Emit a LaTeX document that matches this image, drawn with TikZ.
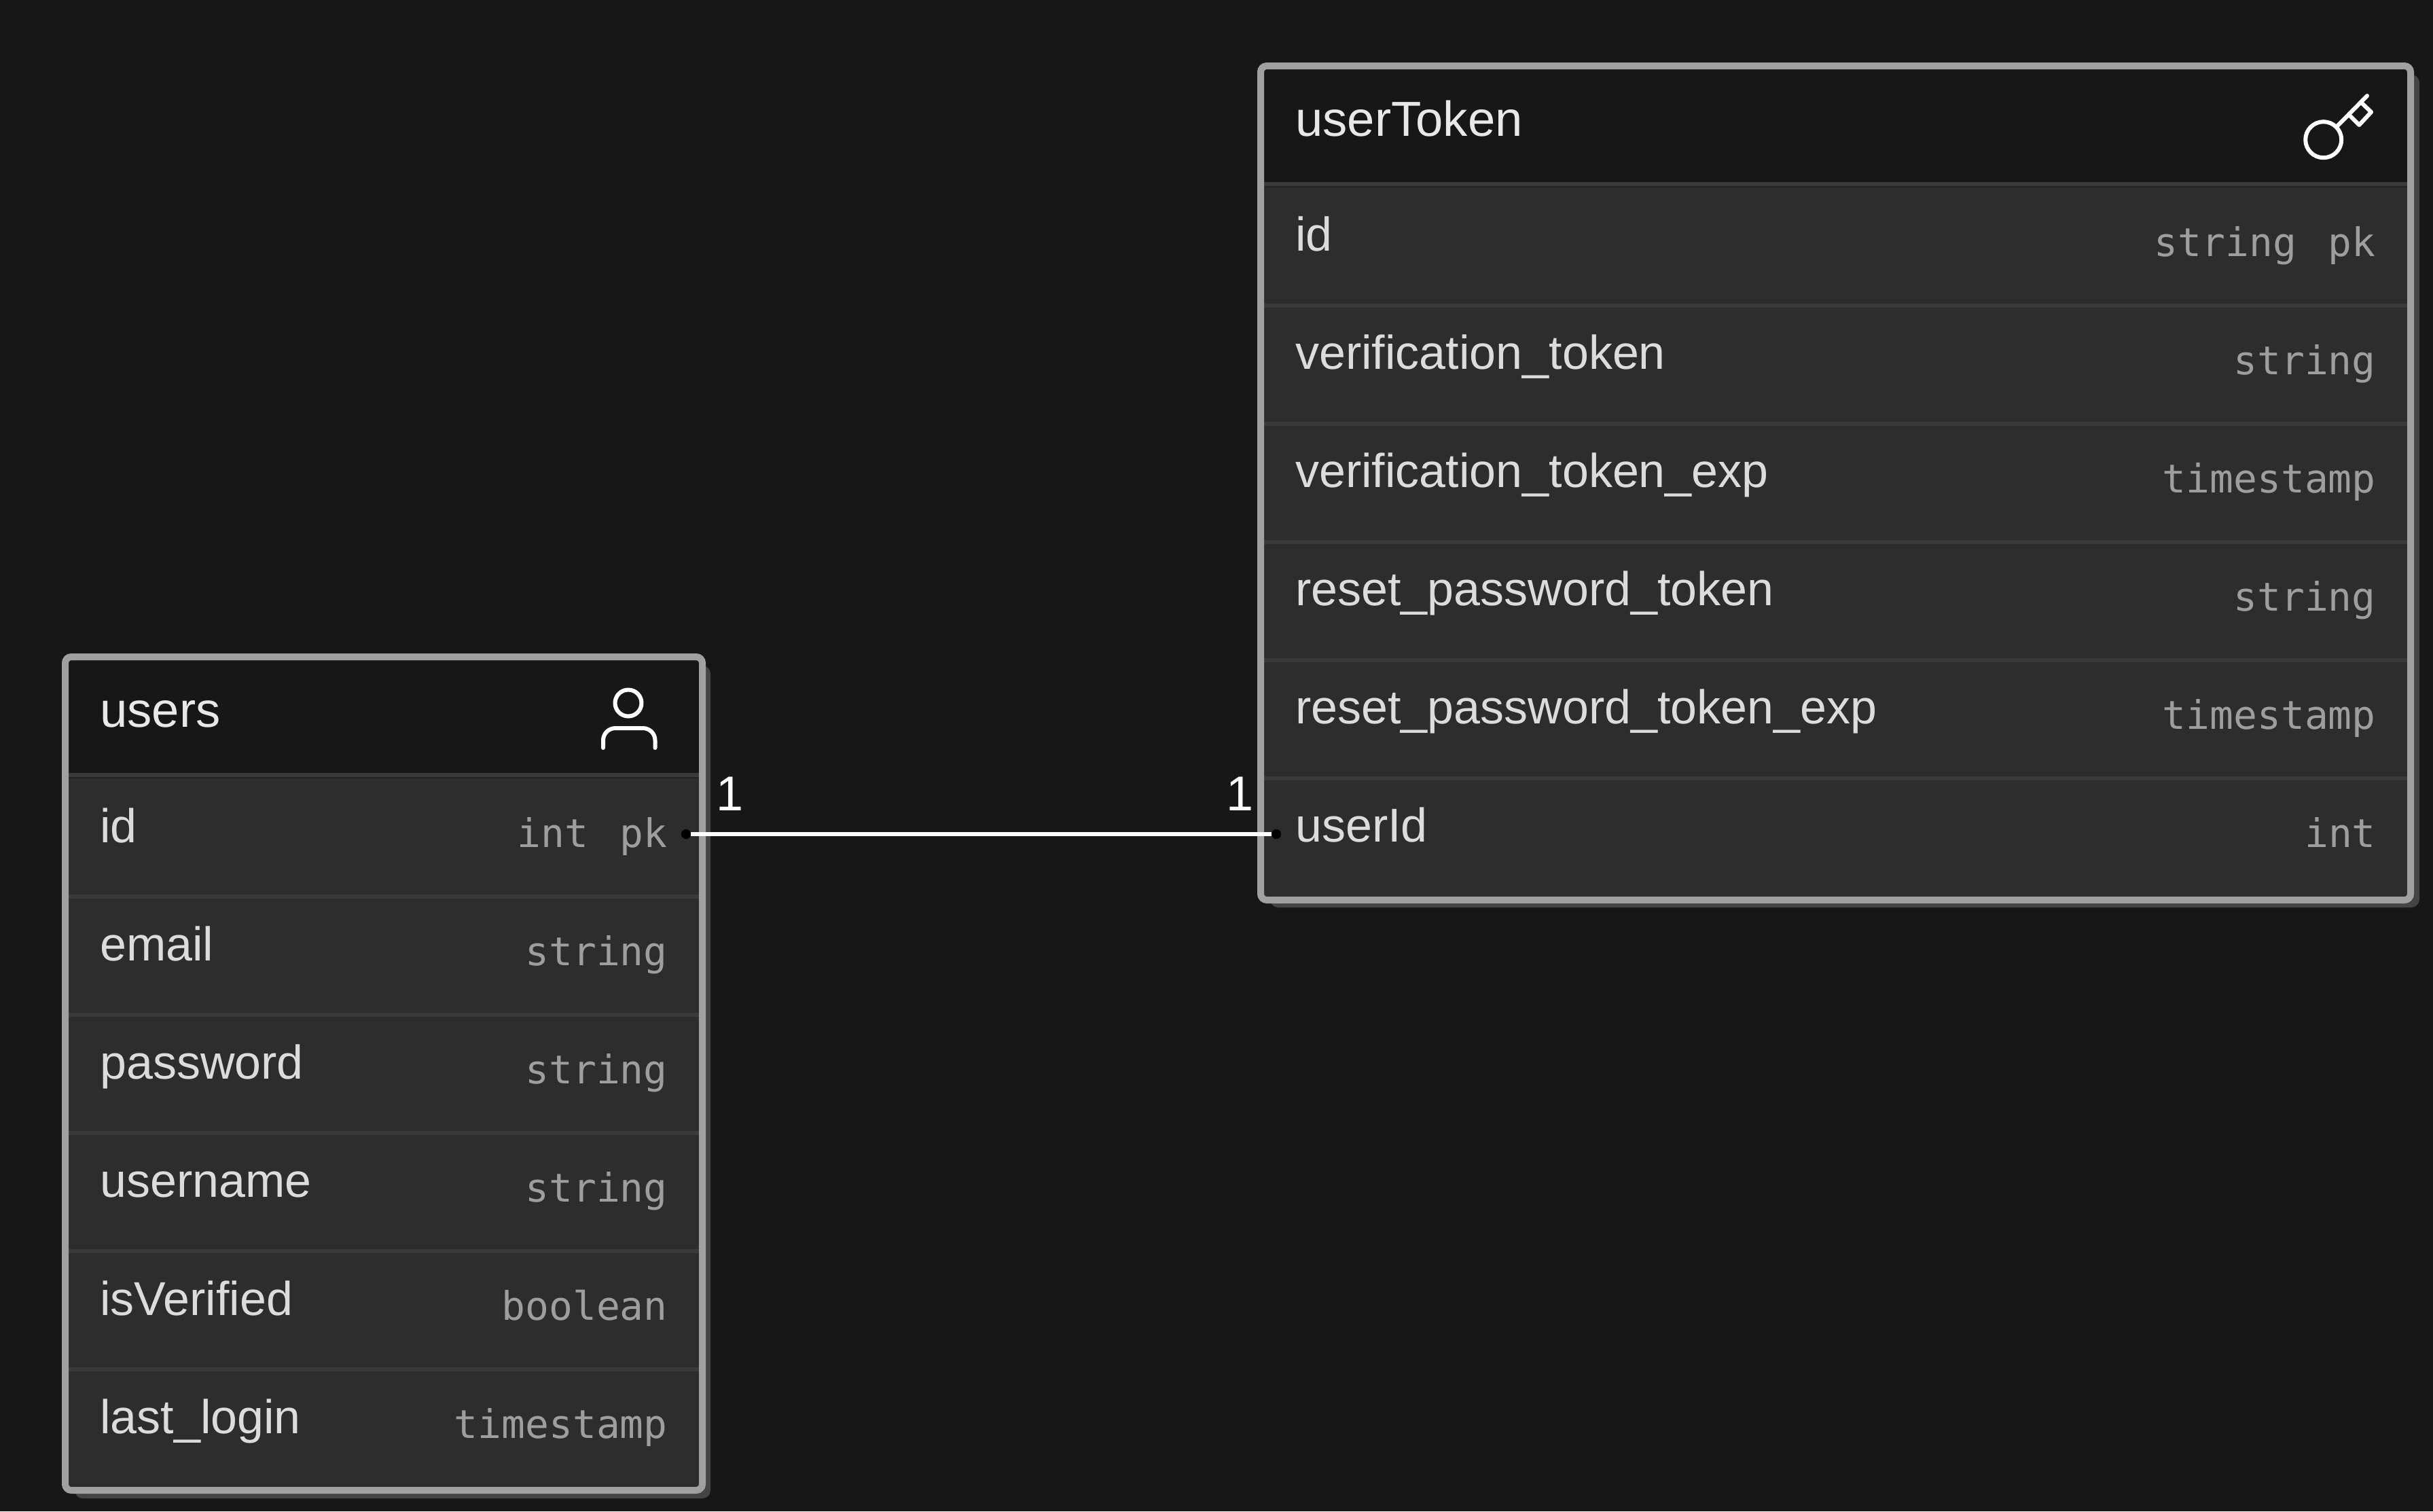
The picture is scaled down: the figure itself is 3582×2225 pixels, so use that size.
\documentclass[tikz,border=0pt]{standalone}
\usepackage{fontspec}
\setmainfont{Liberation Sans}
\newfontfamily\typefont{DejaVu Sans Mono}
\definecolor{bgc}{HTML}{171717}
\definecolor{rowc}{HTML}{2D2D2D}
\definecolor{borderc}{HTML}{A0A0A0}
\definecolor{sepc}{HTML}{3A3A3A}
\definecolor{shadowc}{HTML}{444444}
\definecolor{namec}{HTML}{DCDCDC}
\definecolor{titlec}{HTML}{E8E8E8}
\definecolor{typec}{HTML}{9E9E9E}
\tikzset{
  frame/.style={draw=borderc,line width=10pt,rounded corners=9pt,inner sep=0pt,outer sep=0pt,fill=none},
  boxfill/.style={fill=rowc,rounded corners=9pt},
  headfill/.style={fill=bgc,rounded corners=5pt},
  shadowbox/.style={fill=shadowc,rounded corners=12pt},
  sep/.style={fill=sepc},
  seplow/.style={fill=bgc!60!rowc},
  title/.style={anchor=base west,inner sep=0pt,text=titlec,font=\fontsize{72.5}{76}\selectfont},
  fieldname/.style={anchor=base west,inner sep=0pt,text=namec,font=\fontsize{70}{74}\selectfont},
  fieldtype/.style={anchor=base east,inner sep=0pt,text=typec,font=\typefont\fontsize{58}{60}\selectfont},
  card/.style={anchor=base,inner sep=0pt,text=white,font=\fontsize{72}{76}\selectfont},
  icon/.style={draw=white,line width=6pt,line cap=round,line join=round},
  enddot/.style={circle,fill=black,inner sep=0pt,minimum size=14pt},
  link/.style={draw=white,line width=6pt},
}
\begin{document}
\begin{tikzpicture}[x=1pt,y=-1pt]
\fill[bgc] (0,0) rectangle (3582,2225);
\useasboundingbox (0,0) rectangle (3582,2225);
% users table
\fill[shadowbox] (110,980) rectangle (1046,2206);
\fill[boxfill] (96,967) rectangle (1034,2194);
\fill[headfill] (101,972) rectangle (1029,1144);
\fill[bgc] (101,1100) rectangle (1029,1138);
\fill[sep] (101,1138) rectangle (1029,1144);
\fill[seplow] (101,1144) rectangle (1029,1146);
\foreach \yy in {1317,1491,1665,1839,2013}{\fill[sep] (101,\yy) rectangle (1029,\yy+6);}
\node[frame,minimum width=938pt,minimum height=1227pt] (users) at (565,1580.5) {};
\node[title] (usersT) at (147,1070) {users};
\node[fieldname] (u1n) at (147,1240) {id};
\node[fieldname] (u2n) at (147,1414) {email};
\node[fieldname] (u3n) at (147,1588) {password};
\node[fieldname] (u4n) at (147,1762) {username};
\node[fieldname] (u5n) at (147,1936) {isVerified};
\node[fieldname] (u6n) at (147,2110) {last\_login};
\node[fieldtype] (u1t) at (983,1247) {int\hspace{47pt}pk};
\node[fieldtype] (u2t) at (983,1421) {string};
\node[fieldtype] (u3t) at (983,1595) {string};
\node[fieldtype] (u4t) at (983,1769) {string};
\node[fieldtype] (u5t) at (983,1943) {boolean};
\node[fieldtype] (u6t) at (983,2117) {timestamp};
% person icon
\draw[icon] (925,1035) circle (19.5);
\draw[icon,rounded corners=18pt] (888,1101) -- (888,1072) -- (964.5,1072) -- (964.5,1101);
% userToken table
\fill[shadowbox] (1870,110) rectangle (3562,1336);
\fill[boxfill] (1856,97) rectangle (3549,1325);
\fill[headfill] (1861,102) rectangle (3544,274);
\fill[bgc] (1861,230) rectangle (3544,268);
\fill[sep] (1861,268) rectangle (3544,274);
\fill[seplow] (1861,274) rectangle (3544,276);
\foreach \yy in {447,621,795,969,1143}{\fill[sep] (1861,\yy) rectangle (3544,\yy+6);}
\node[frame,minimum width=1693pt,minimum height=1228pt] (userToken) at (2702.5,711) {};
\node[title] (tokT) at (1907,200) {userToken};
\node[fieldname] (t1n) at (1907,369) {id};
\node[fieldname] (t2n) at (1907,543) {verification\_token};
\node[fieldname] (t3n) at (1907,717) {verification\_token\_exp};
\node[fieldname] (t4n) at (1907,891) {reset\_password\_token};
\node[fieldname] (t5n) at (1907,1065) {reset\_password\_token\_exp};
\node[fieldname] (t6n) at (1907,1239) {userId};
\node[fieldtype] (t1t) at (3498,377) {string\hspace{47pt}pk};
\node[fieldtype] (t2t) at (3498,551) {string};
\node[fieldtype] (t3t) at (3498,725) {timestamp};
\node[fieldtype] (t4t) at (3498,899) {string};
\node[fieldtype] (t5t) at (3498,1073) {timestamp};
\node[fieldtype] (t6t) at (3498,1247) {int};
% key icon
\draw[icon] (3420.7,205.7) circle (26.5);
\draw[icon] (3441.7,185) -- (3485,141);
\draw[icon] (3459.3,170) -- (3473.3,184) -- (3491,165) -- (3477.7,152.3);
% relation
\node[enddot] (dotA) at (1010,1228) {};
\node[enddot] (dotB) at (1879,1228) {};
\draw[link] (dotA) -- (dotB);
\node[enddot] at (dotA) {};
\node[enddot] at (dotB) {};
\node[card] (cardA) at (1075,1193) {1};
\node[card] (cardB) at (1825,1193) {1};
\end{tikzpicture}
\end{document}
